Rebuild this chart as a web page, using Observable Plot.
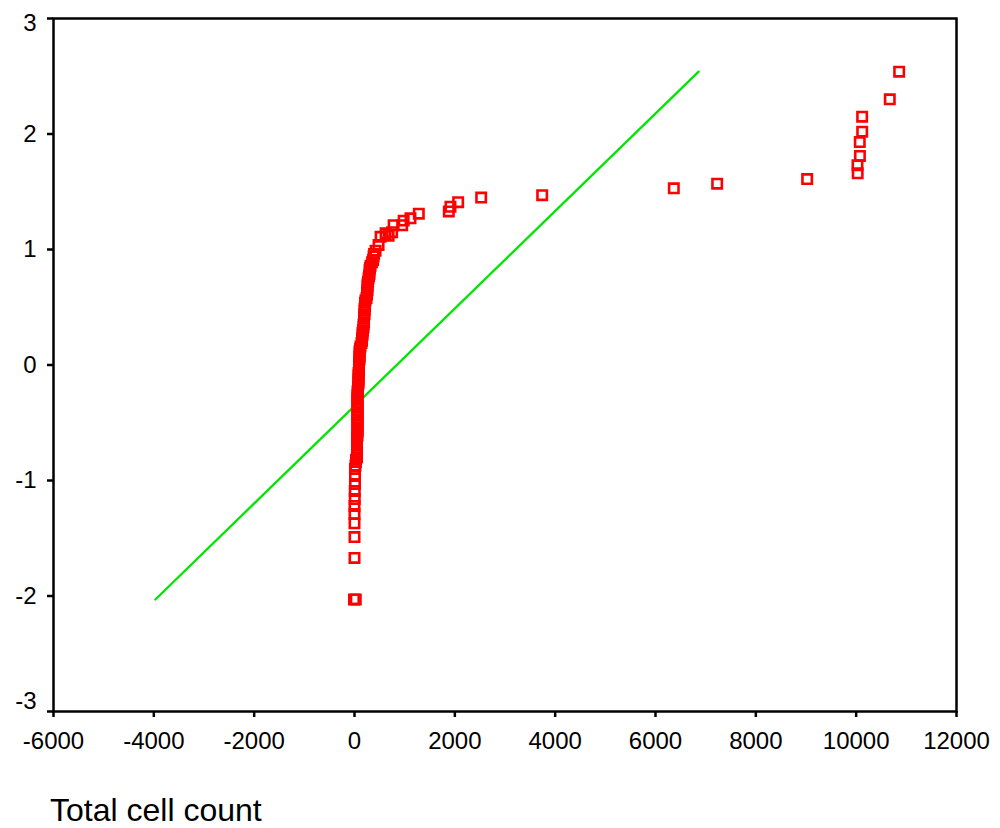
<!DOCTYPE html>
<html>
<head>
<meta charset="utf-8">
<script src="https://cdn.jsdelivr.net/npm/d3@7"></script>
<script src="https://cdn.jsdelivr.net/npm/@observablehq/plot@0.6"></script>
<style>
  body { margin: 0; background: #fff; font-family: "Liberation Sans", Arial, sans-serif; }
  #chart svg { display: block; }
  #xlabel { margin-top: 36px; padding-left: 50px; font-size: 32px; line-height: 28px; height: 28px; color: #000; }
</style>
</head>
<body>
<div id="chart"></div>
<div id="xlabel">Total cell count</div>
<script>
const cellCount = [
  10857, 10670, 10119, 10120, 10072, 10075, 10026, 10030, 9023, 7229, 6365,
  3741, 2525, 2066, 1913, 1880, 1282, 1116, 980, 950, 780, 750, 680, 620, 520, 480, 420,
  390, 380, 370, 350, 320, 310, 300, 300, 290, 280, 270, 260, 260, 260, 250, 250, 240,
  220, 210, 210, 200, 200, 200, 190, 190, 190, 180, 180, 170, 160, 160, 150, 150, 140,
  120, 110, 100, 100, 100, 100, 90, 90, 90, 90, 80, 80, 80, 80, 80, 70, 70,
  60, 60, 60, 60, 60, 60, 60, 60, 60, 60, 60, 60, 60, 60, 60, 60, 60,
  50, 50, 50, 50, 50, 50, 50, 50, 30, 30,
  20, 10, 10, 10, 5, 5, 0, 0, 0, 0, 0, -10, 25
];
const expectedNormal = [
  2.54, 2.30, 2.15, 2.02, 1.93, 1.81, 1.73, 1.66, 1.61, 1.57, 1.53,
  1.47, 1.45, 1.41, 1.37, 1.33, 1.31, 1.27, 1.25, 1.21, 1.21, 1.15, 1.12, 1.14, 1.11, 1.04, 0.99,
  0.96, 0.94, 0.91, 0.89, 0.86, 0.84, 0.82, 0.79, 0.77, 0.75, 0.72, 0.70, 0.68, 0.65, 0.63, 0.61, 0.58,
  0.56, 0.54, 0.51, 0.49, 0.47, 0.44, 0.42, 0.40, 0.37, 0.35, 0.33, 0.30, 0.28, 0.26, 0.23, 0.21, 0.19,
  0.16, 0.14, 0.12, 0.09, 0.07, 0.05, 0.02, 0.00, -0.02, -0.05, -0.07, -0.09, -0.12, -0.14, -0.16, -0.19, -0.21,
  -0.23, -0.26, -0.28, -0.30, -0.33, -0.35, -0.37, -0.40, -0.42, -0.44, -0.47, -0.49, -0.51, -0.54, -0.56, -0.58, -0.61,
  -0.63, -0.65, -0.68, -0.70, -0.72, -0.75, -0.77, -0.80, -0.82, -0.84,
  -0.87, -0.90, -0.96, -1.03, -1.09, -1.16, -1.22, -1.29, -1.37, -1.49, -1.67, -2.03, -2.03
];
// Reference (expected normal) line endpoints
const lineX = [-3970, 6860];
const lineY = [-2.03, 2.54];
// Tick values
const xTicks = [-6000, -4000, -2000, 0, 2000, 4000, 6000, 8000, 10000, 12000];
const yTicks = [-3, -2, -1, 0, 1, 2, 3];
const yMidTicks = [-2, -1, 0, 1, 2];

const fmt = d => String(d);

const chart = Plot.plot({
  width: 1000,
  height: 760,
  marginLeft: 53,
  marginRight: 44,
  marginTop: 18,
  marginBottom: 49,
  style: { fontFamily: "'Liberation Sans', Arial, sans-serif", color: "#000", background: "#fff" },
  x: { domain: [-6000, 12000], label: null },
  y: { domain: [-3, 3], label: null },
  marks: [
    Plot.line(lineX, { x: d => d, y: (d, i) => lineY[i], stroke: "#00e600", strokeWidth: 2.3 }),
    Plot.dot(cellCount, {
      x: d => d, y: (d, i) => expectedNormal[i],
      symbol: "square", r: 5.3, stroke: "#ff0000", strokeWidth: 2.6, fill: "none"
    }),
    Plot.frame({ stroke: "#000", strokeWidth: 2.5 }),
    Plot.axisX({ ticks: xTicks, tickSize: 6, tickPadding: 14, fontSize: 24, strokeWidth: 2.5, tickFormat: fmt, label: null }),
    Plot.axisY({ ticks: yTicks, tickSize: 6, strokeWidth: 2.5, fill: "none", label: null }),
    Plot.axisY({ ticks: yMidTicks, tickSize: 6, tickPadding: 11, stroke: "none", fontSize: 24, tickFormat: fmt, label: null }),
    Plot.axisY({ ticks: [3], tickSize: 6, tickPadding: 11, stroke: "none", fontSize: 24, tickFormat: fmt, label: null, dy: 5 }),
    Plot.axisY({ ticks: [-3], tickSize: 6, tickPadding: 11, stroke: "none", fontSize: 24, tickFormat: fmt, label: null, dy: -10 })
  ]
});
document.getElementById("chart").appendChild(chart);
</script>
</body>
</html>
